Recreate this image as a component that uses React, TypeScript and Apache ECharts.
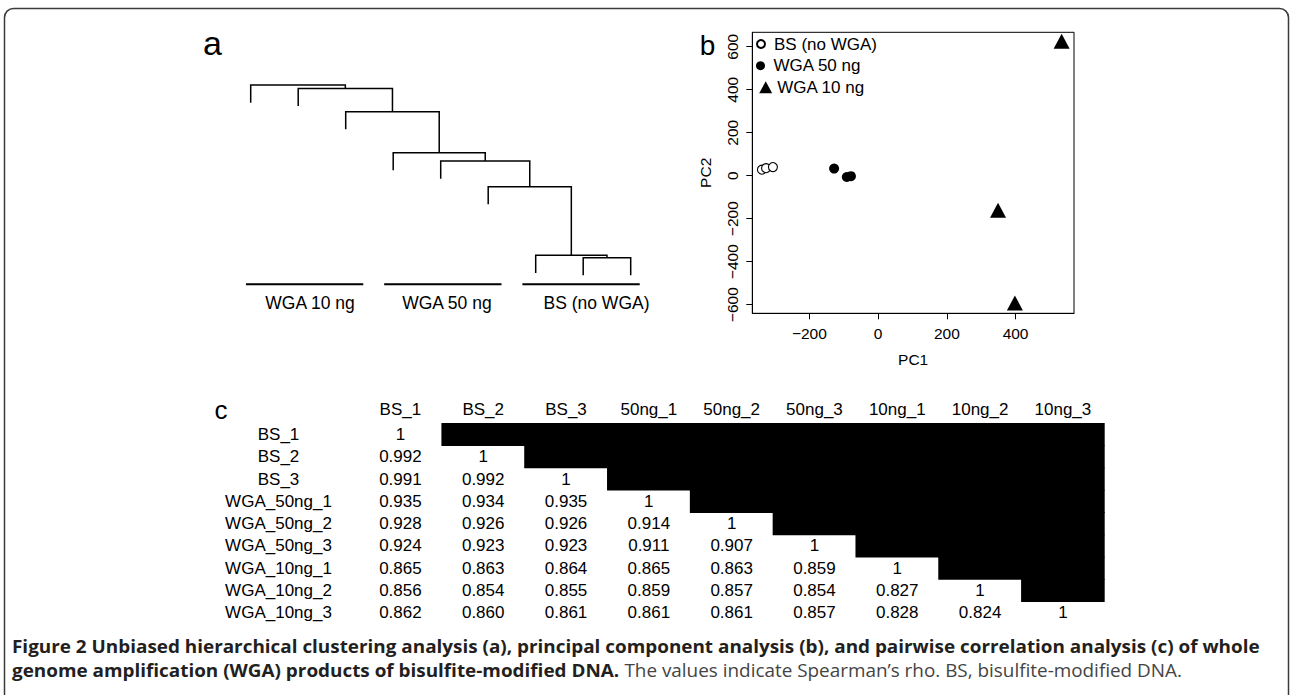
import React, { useEffect, useRef } from 'react';
import * as echarts from 'echarts';

const FONT = '"Liberation Sans", Arial, Helvetica, sans-serif';
const CAPTION_FONT = '"Open Sans", "Noto Sans", sans-serif';

// ---------- Panel a: hierarchical clustering (R-style merge matrix) ----------
const leafOrder = [1, 2, 3, 4, 5, 6, 7, 8, 9];
const mergeLeft = [-8, -7, -6, -5, -4, -3, -2, -1];
const mergeRight = [-9, 1, 2, 3, 4, 5, 6, 7];
const mergeHeight = [0.154, 0.165, 0.492, 0.614, 0.654, 0.849, 0.96, 0.976];
const leafHang = 0.084;
const groupLabels = ['WGA 10 ng', 'WGA 50 ng', 'BS (no WGA)'];
const groupStart = [0.9, 3.81, 6.72];
const groupEnd = [3.37, 6.28, 9.19];
const groupLabelX = [2.25, 5.13, 8.28];

// ---------- Panel b: PCA ----------
const bsPC1 = [-338, -326, -306];
const bsPC2 = [28, 35, 40];
const wga50PC1 = [-128, -91, -79];
const wga50PC2 = [33, -6, -2];
const wga10PC1 = [534, 349, 398];
const wga10PC2 = [625, -161, -592];
const pcTicksX = [-200, 0, 200, 400];
const pcTicksY = [-600, -400, -200, 0, 200, 400, 600];
const legendNames = ['BS (no WGA)', 'WGA 50 ng', 'WGA 10 ng'];

// ---------- Panel c: Spearman correlation table ----------
const colLabels = ['BS_1', 'BS_2', 'BS_3', '50ng_1', '50ng_2', '50ng_3', '10ng_1', '10ng_2', '10ng_3'];
const rowLabels = ['BS_1', 'BS_2', 'BS_3', 'WGA_50ng_1', 'WGA_50ng_2', 'WGA_50ng_3', 'WGA_10ng_1', 'WGA_10ng_2', 'WGA_10ng_3'];
const rhoBS1 = [1];
const rhoBS2 = [0.992, 1];
const rhoBS3 = [0.991, 0.992, 1];
const rho50ng1 = [0.935, 0.934, 0.935, 1];
const rho50ng2 = [0.928, 0.926, 0.926, 0.914, 1];
const rho50ng3 = [0.924, 0.923, 0.923, 0.911, 0.907, 1];
const rho10ng1 = [0.865, 0.863, 0.864, 0.865, 0.863, 0.859, 1];
const rho10ng2 = [0.856, 0.854, 0.855, 0.859, 0.857, 0.854, 0.827, 1];
const rho10ng3 = [0.862, 0.86, 0.861, 0.861, 0.861, 0.857, 0.828, 0.824, 1];
const rhoRows = [rhoBS1, rhoBS2, rhoBS3, rho50ng1, rho50ng2, rho50ng3, rho10ng1, rho10ng2, rho10ng3];

const captionBold1 =
  'Figure 2 Unbiased hierarchical clustering analysis (a), principal component analysis (b), and pairwise correlation analysis (c) of whole';
const captionBold2 = 'genome amplification (WGA) products of bisulfite-modified DNA.';
const captionRegular2 = 'The values indicate Spearman\u2019s rho. BS, bisulfite-modified DNA.';

function buildDendrogram() {
  const nodeX: number[] = [];
  const segs: number[][] = [];
  for (let k = 0; k < mergeHeight.length; k++) {
    const h = mergeHeight[k];
    const child = (id: number) =>
      id < 0
        ? { x: leafOrder.indexOf(-id) + 1, h: h - leafHang }
        : { x: nodeX[id - 1], h: mergeHeight[id - 1] };
    const l = child(mergeLeft[k]);
    const r = child(mergeRight[k]);
    nodeX.push((l.x + r.x) / 2);
    segs.push([l.x, r.x, h, l.h, r.h]);
  }
  return segs;
}

const fmtMinus = (v: number) => (v < 0 ? '\u2212' + Math.abs(v) : String(v));

export default function App() {
  const ref = useRef<HTMLDivElement>(null);

  useEffect(() => {
    if (!ref.current) return;
    const chart = echarts.init(ref.current, undefined, { renderer: 'svg' });

    const BAR_H = 0.027;
    const LABEL_H = -0.063;

    const dendroData = buildDendrogram();
    const groupData = groupLabels.map((_, i) => [groupStart[i], groupEnd[i], groupLabelX[i], i]);

    const cellData: number[][] = [];
    for (let r = 0; r < rowLabels.length; r++) {
      for (let c = 0; c < colLabels.length; c++) {
        if (c <= r) cellData.push([c, r, rhoRows[r][c], 0]);
        else cellData.push([c, r, 0, 1]);
      }
    }

    const axisText = { color: '#000', fontFamily: FONT, fontSize: 15.5 };
    const legendText = { fontSize: 17, color: '#000', fontFamily: FONT };

    const option: any = {
      animation: false,
      backgroundColor: '#ffffff',
      tooltip: { show: false },
      grid: [
        { left: 203.2, top: 80, width: 475, height: 252 },
        {
          left: 752.3,
          top: 32.3,
          width: 321.7,
          height: 281,
          show: true,
          borderColor: '#000',
          borderWidth: 1,
          backgroundColor: 'transparent',
        },
        { left: 359, top: 423.3, width: 745.3, height: 200.7 },
      ],
      xAxis: [
        { gridIndex: 0, type: 'value', min: 0, max: 10, show: false },
        {
          gridIndex: 1,
          type: 'value',
          min: -366,
          max: 570,
          splitLine: { show: false },
          axisLine: { show: true, onZero: false, lineStyle: { color: '#000', width: 1 } },
          axisTick: { show: true, customValues: pcTicksX, length: 6, lineStyle: { color: '#000' } },
          axisLabel: { customValues: pcTicksX, margin: 12, formatter: fmtMinus, ...axisText },
          name: 'PC1',
          nameLocation: 'middle',
          nameGap: 38,
          nameTextStyle: axisText,
        },
        {
          gridIndex: 2,
          type: 'category',
          data: colLabels,
          position: 'top',
          axisLine: { show: false },
          axisTick: { show: false },
          splitLine: { show: false },
          axisLabel: { interval: 0, margin: 5, color: '#000', fontFamily: FONT, fontSize: 17 },
        },
      ],
      yAxis: [
        { gridIndex: 0, type: 'value', min: -0.2, max: 1.0, show: false },
        {
          gridIndex: 1,
          type: 'value',
          min: -640,
          max: 667,
          splitLine: { show: false },
          axisLine: { show: true, onZero: false, lineStyle: { color: '#000', width: 1 } },
          axisTick: { show: true, customValues: pcTicksY, length: 6, lineStyle: { color: '#000' } },
          axisLabel: { customValues: pcTicksY, rotate: 90, margin: 12, formatter: fmtMinus, ...axisText },
          name: 'PC2',
          nameLocation: 'middle',
          nameGap: 39,
          nameTextStyle: axisText,
        },
        {
          gridIndex: 2,
          type: 'category',
          data: rowLabels,
          inverse: true,
          axisLine: { show: false },
          axisTick: { show: false },
          splitLine: { show: false },
          axisLabel: { interval: 0, align: 'center', margin: 80.5, color: '#000', fontFamily: FONT, fontSize: 17 },
        },
      ],
      legend: [
        {
          data: [legendNames[0]],
          left: 756,
          top: 35.5,
          padding: 0,
          itemWidth: 16,
          itemHeight: 8,
          selectedMode: false,
          textStyle: legendText,
        },
        {
          data: [legendNames[1]],
          left: 756,
          top: 57.2,
          padding: 0,
          itemWidth: 16,
          itemHeight: 9,
          selectedMode: false,
          textStyle: legendText,
        },
        {
          data: [legendNames[2]],
          left: 759.2,
          top: 78.8,
          padding: 0,
          itemWidth: 13,
          itemHeight: 12,
          selectedMode: false,
          textStyle: legendText,
        },
      ],
      series: [
        {
          type: 'custom',
          name: 'dendrogram',
          xAxisIndex: 0,
          yAxisIndex: 0,
          silent: true,
          data: dendroData,
          renderItem: (params: any, api: any) => {
            const xl = api.value(0);
            const xr = api.value(1);
            const h = api.value(2);
            const p1 = api.coord([xl, api.value(3)]);
            const p2 = api.coord([xl, h]);
            const p3 = api.coord([xr, h]);
            const p4 = api.coord([xr, api.value(4)]);
            return {
              type: 'polyline',
              shape: { points: [p1, p2, p3, p4] },
              style: { stroke: '#000', fill: null, lineWidth: 1.5 },
            };
          },
        },
        {
          type: 'custom',
          name: 'groups',
          xAxisIndex: 0,
          yAxisIndex: 0,
          silent: true,
          data: groupData,
          renderItem: (params: any, api: any) => {
            const i = api.value(3);
            const a = api.coord([api.value(0), BAR_H]);
            const b = api.coord([api.value(1), BAR_H]);
            const t = api.coord([api.value(2), LABEL_H]);
            return {
              type: 'group',
              children: [
                { type: 'line', shape: { x1: a[0], y1: a[1], x2: b[0], y2: b[1] }, style: { stroke: '#000', lineWidth: 2 } },
                {
                  type: 'text',
                  style: {
                    text: groupLabels[i],
                    x: t[0],
                    y: t[1],
                    align: 'center',
                    verticalAlign: 'middle',
                    fontSize: 17.5,
                    fontFamily: FONT,
                    fill: '#000',
                  },
                },
              ],
            };
          },
        },
        {
          type: 'scatter',
          name: legendNames[0],
          xAxisIndex: 1,
          yAxisIndex: 1,
          symbol: 'circle',
          symbolSize: 9,
          emphasis: { disabled: true },
          itemStyle: { color: '#fff', borderColor: '#000', borderWidth: 1.1, opacity: 1 },
          data: bsPC1.map((x, i) => [x, bsPC2[i]]),
        },
        {
          type: 'scatter',
          name: legendNames[1],
          xAxisIndex: 1,
          yAxisIndex: 1,
          symbol: 'circle',
          symbolSize: 10,
          emphasis: { disabled: true },
          itemStyle: { color: '#000', opacity: 1 },
          data: wga50PC1.map((x, i) => [x, wga50PC2[i]]),
        },
        {
          type: 'scatter',
          name: legendNames[2],
          xAxisIndex: 1,
          yAxisIndex: 1,
          symbol: 'triangle',
          symbolSize: [16, 15],
          emphasis: { disabled: true },
          itemStyle: { color: '#000', opacity: 1 },
          data: wga10PC1.map((x, i) => [x, wga10PC2[i]]),
        },
        {
          type: 'custom',
          name: 'table',
          xAxisIndex: 2,
          yAxisIndex: 2,
          silent: true,
          data: cellData,
          renderItem: (params: any, api: any) => {
            const c = api.value(0);
            const r = api.value(1);
            const v = api.value(2);
            const masked = api.value(3);
            const center = api.coord([c, r]);
            const size = api.size([1, 1]);
            if (masked) {
              return {
                type: 'rect',
                shape: {
                  x: center[0] - size[0] / 2 - 0.4,
                  y: center[1] - size[1] / 2 - 0.4,
                  width: size[0] + 0.8,
                  height: size[1] + 0.8,
                },
                style: { fill: '#000' },
              };
            }
            return {
              type: 'text',
              style: {
                text: v === 1 ? '1' : v.toFixed(3),
                x: center[0],
                y: center[1],
                align: 'center',
                verticalAlign: 'middle',
                fontSize: 17,
                fontFamily: FONT,
                fill: '#000',
              },
            };
          },
        },
      ],
      graphic: [
        {
          type: 'rect',
          silent: true,
          shape: { x: 4.5, y: 8.5, width: 1284, height: 700, r: 9 },
          style: { fill: 'none', stroke: '#3a3a3a', lineWidth: 1.5 },
        },
        {
          type: 'text',
          silent: true,
          style: { text: 'a', x: 212.5, y: 43, align: 'center', verticalAlign: 'middle', fontSize: 34, fontFamily: FONT, fill: '#000' },
        },
        {
          type: 'text',
          silent: true,
          style: { text: 'b', x: 707.5, y: 45, align: 'center', verticalAlign: 'middle', fontSize: 28, fontFamily: FONT, fill: '#000' },
        },
        {
          type: 'text',
          silent: true,
          style: { text: 'c', x: 221, y: 409.5, align: 'center', verticalAlign: 'middle', fontSize: 26, fontFamily: FONT, fill: '#000' },
        },
        {
          type: 'text',
          silent: true,
          x: 12,
          y: 646.5,
          scaleX: 1.08,
          style: {
            text: captionBold1,
            x: 0,
            y: 0,
            verticalAlign: 'middle',
            fontSize: 17.5,
            fontWeight: 'bold',
            fontFamily: CAPTION_FONT,
            fill: '#231f20',
          },
        },
        {
          type: 'text',
          silent: true,
          x: 12,
          y: 670.5,
          scaleX: 1.08,
          style: {
            text: '{b|' + captionBold2 + '} {r|' + captionRegular2 + '}',
            x: 0,
            y: 0,
            verticalAlign: 'middle',
            fontSize: 17.5,
            fontFamily: CAPTION_FONT,
            rich: {
              b: { fontSize: 17.5, fontWeight: 'bold', fontFamily: CAPTION_FONT, fill: '#231f20' },
              r: { fontSize: 17.5, fontWeight: 'normal', fontFamily: CAPTION_FONT, fill: '#444' },
            },
          },
        },
      ],
    };

    chart.setOption(option);
    return () => chart.dispose();
  }, []);

  return (
    <div
      ref={ref}
      style={{ position: 'absolute', left: 0, top: 0, width: 1292, height: 695, background: '#fff' }}
    />
  );
}
